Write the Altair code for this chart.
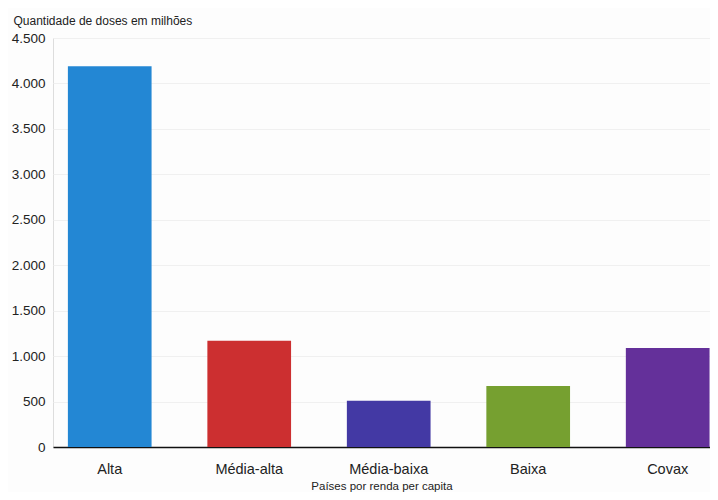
import altair as alt
import pandas as pd

categories = ["Alta", "Média-alta", "Média-baixa", "Baixa", "Covax"]
doses = [4190, 1170, 510, 670, 1090]
colors = ["#2387d4", "#cc2f30", "#4339a4", "#76a030", "#64309a"]

df = pd.DataFrame({"cat": categories, "doses": doses})

chart = alt.Chart(df).mark_bar().encode(
    x=alt.X("cat:N", sort=categories,
            scale=alt.Scale(paddingInner=0.4, paddingOuter=0.055, align=0.97),
            axis=alt.Axis(title="Países por renda per capita", labelAngle=0,
                          labelFontSize=14.5, labelColor="#222", labelPadding=15,
                          ticks=False, domainColor="#111", domainWidth=1.5,
                          titleFontSize=11.5, titleFontWeight="normal", titleColor="#222",
                          titleBaseline="alphabetic", titleY=42)),
    y=alt.Y("doses:Q", scale=alt.Scale(domain=[0, 4500], nice=False),
            axis=alt.Axis(title="Quantidade de doses em milhões", values=list(range(0, 4501, 500)),
                          labelExpr="replace(format(datum.value, ',d'), ',', '.')",
                          labelFontSize=13.5, labelColor="#222", labelPadding=8,
                          ticks=False, domain=False, grid=True, gridColor="#f0f0f0",
                          titleAngle=0, titleAlign="left", titleBaseline="alphabetic",
                          titleX=-40, titleY=-14, titleFontSize=12,
                          titleFontWeight="normal", titleColor="#222")),
    color=alt.Color("cat:N", sort=categories,
                    scale=alt.Scale(domain=categories, range=colors), legend=None),
).properties(
    width=657, height=409,
    autosize=alt.AutoSizeParams(type="none"),
    padding={"left": 45, "top": 30, "right": 0, "bottom": 45},
    background="#fdfdfd",
).configure_view(stroke=None).configure(font="Liberation Sans")

chart.save("out.html", embed_options={"renderer": "svg", "actions": False})
